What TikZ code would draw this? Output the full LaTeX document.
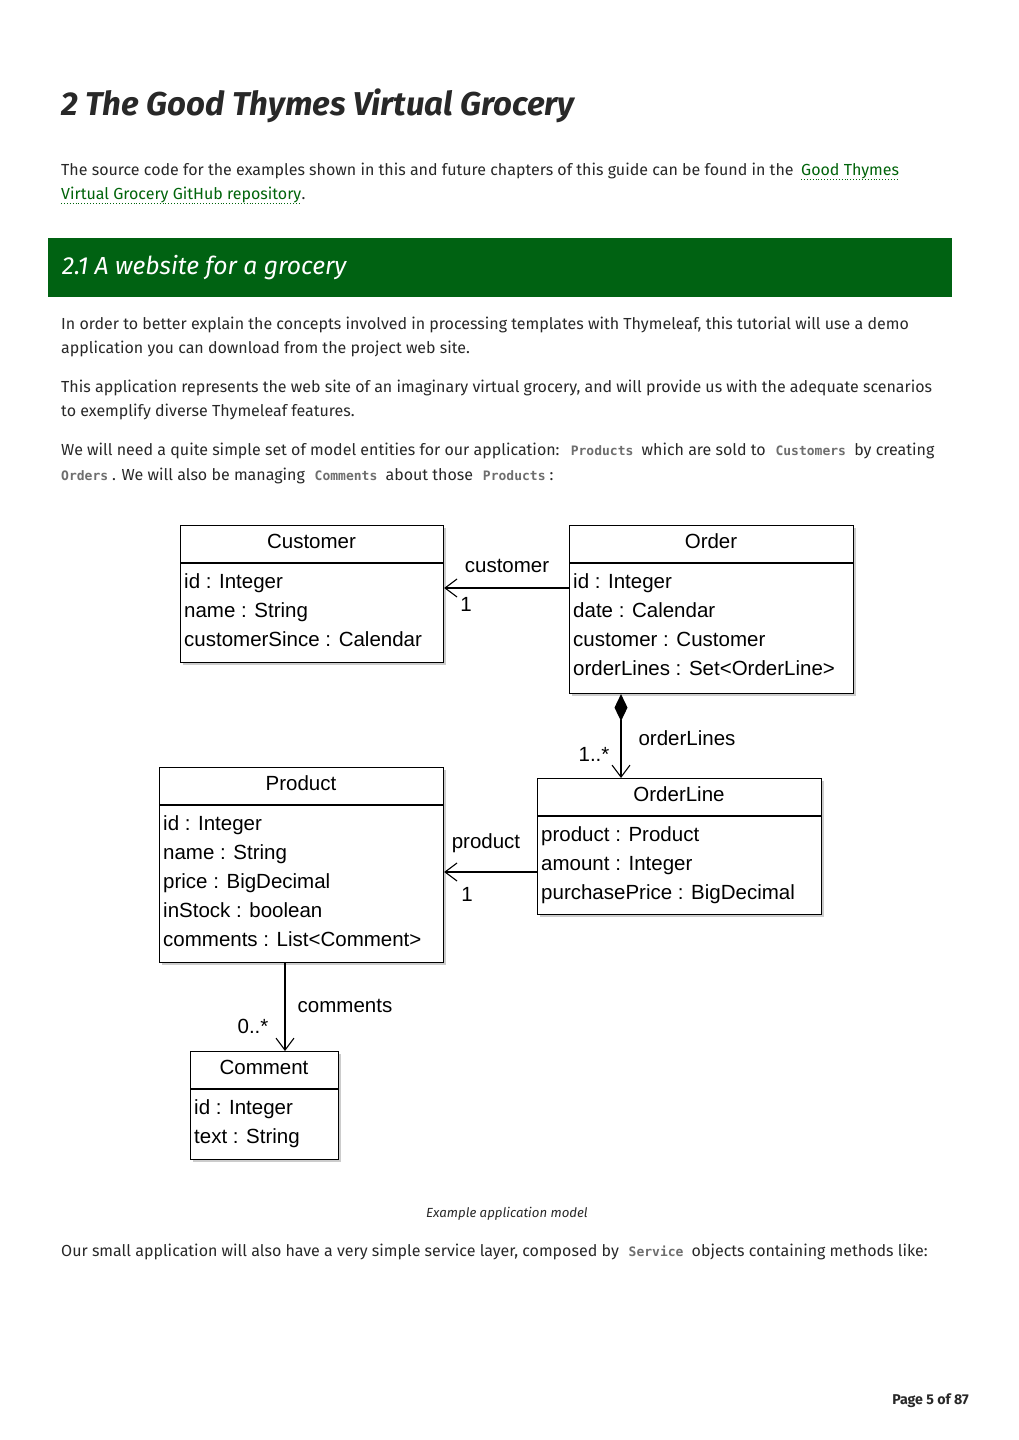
\documentclass[tikz,border=0pt]{standalone}
\usepackage{fontspec}
\setmainfont{Fira Sans}
\newfontfamily\umlfont{Liberation Sans}
\newfontfamily\codefont{DejaVu Sans Mono}
\usetikzlibrary{arrows.meta,shadows}
\definecolor{textgray}{RGB}{40,40,40}
\definecolor{bannergreen}{RGB}{0,98,18}
\definecolor{linkgreen}{RGB}{0,100,10}
\definecolor{codegray}{RGB}{110,110,110}
\newcommand\cd[1]{\hspace{0.35em}{\codefont\bfseries\fontsize{13}{15}\selectfont\color{codegray}#1}\hspace{0.25em}}
\begin{document}
\begin{tikzpicture}[x=1pt,y=-1pt,
  body/.style={anchor=base west, inner sep=0pt, font=\fontsize{16}{19}\selectfont, text=textgray},
  linktext/.style={body, text=linkgreen},
  linkline/.style={linkgreen, dotted, line width=0.9pt},
  cls/.style={draw, line width=1.1pt, fill=white, anchor=north west, inner sep=0pt,
     drop shadow={shadow xshift=2.5pt, shadow yshift=-2.5pt, fill=black, opacity=0.2}},
  sep/.style={line width=1.1pt},
  umltitle/.style={anchor=base, inner sep=0pt, font=\umlfont\fontsize{20.5}{24}\selectfont},
  umlattr/.style={anchor=base west, inner sep=0pt, font=\umlfont\fontsize{20.5}{24}\selectfont},
  umllabel/.style={inner sep=0pt, font=\umlfont\fontsize{20.5}{24}\selectfont},
  assoc/.style={line width=1.1pt, -{Straight Barb[length=12pt,width=18pt]}},
  compo/.style={line width=1.1pt, {Diamond[length=27pt,width=13pt]}-{Straight Barb[length=12pt,width=18pt]}}
]
\useasboundingbox (0,0) rectangle (1018,1440);
\fill[white] (0,0) rectangle (1018,1440);

% Title
\node[anchor=base west, inner sep=0pt, text=textgray, font=\fontsize{33}{38}\selectfont\bfseries\itshape] (title) at (61,115) {2 The Good Thymes Virtual Grocery};

% Paragraph 1
\node[body] (p1a) at (61,175) {The source code for the examples shown in this and future chapters of this guide can be found in the};
\node[linktext] (l1) at (801,175) {Good Thymes};
\node[linktext] (l2) at (61,199) {Virtual Grocery GitHub repository};
\node[body, anchor=base west] (p1b) at (l2.base east) {.};
\draw[linkline] ([yshift=-4pt]l1.base west) -- ([yshift=-4pt]l1.base east);
\draw[linkline] ([yshift=-4pt]l2.base west) -- ([yshift=-4pt]l2.base east);

% Banner
\fill[bannergreen] (48,238) rectangle (952,297);
\node[anchor=base west, inner sep=0pt, text=white, font=\fontsize{24.7}{29}\selectfont\itshape] (h21) at (62,274) {2.1 A website for a grocery};

% Paragraphs
\node[body] (p2a) at (61,329) {In order to better explain the concepts involved in processing templates with Thymeleaf, this tutorial will use a demo};
\node[body] (p2b) at (61,353) {application you can download from the project web site.};
\node[body] (p3a) at (61,392) {This application represents the web site of an imaginary virtual grocery, and will provide us with the adequate scenarios};
\node[body] (p3b) at (61,416) {to exemplify diverse Thymeleaf features.};
\node[body] (p4a) at (61,455) {We will need a quite simple set of model entities for our application: \cd{Products} which are sold to \cd{Customers} by creating};
\node[body] (p4b) at (61,480) {\hspace{-0.35em}\cd{Orders}. We will also be managing \cd{Comments} about those \cd{Products}:};

% ---------------- UML diagram ----------------
% Customer
\node[cls, minimum width=263pt, minimum height=137pt] (cust) at (180,525) {};
\draw[sep] ([yshift=-38pt]cust.north west) -- ([yshift=-38pt]cust.north east);
\node[umltitle] (custT) at (311.5,548) {Customer};
\node[umlattr] (cust1) at (184,588) {id : Integer};
\node[umlattr] (cust2) at (184,617) {name : String};
\node[umlattr] (cust3) at (184,646) {customerSince : Calendar};

% Order
\node[cls, minimum width=284pt, minimum height=168pt] (ord) at (569,525) {};
\draw[sep] ([yshift=-38pt]ord.north west) -- ([yshift=-38pt]ord.north east);
\node[umltitle] (ordT) at (711,548) {Order};
\node[umlattr] (ord1) at (573,588) {id : Integer};
\node[umlattr] (ord2) at (573,617) {date : Calendar};
\node[umlattr] (ord3) at (573,646) {customer : Customer};
\node[umlattr] (ord4) at (573,675) {orderLines : Set<OrderLine>};

% Product
\node[cls, minimum width=284pt, minimum height=195pt] (prod) at (159,767) {};
\draw[sep] ([yshift=-38pt]prod.north west) -- ([yshift=-38pt]prod.north east);
\node[umltitle] (prodT) at (301,790) {Product};
\node[umlattr] (prod1) at (163,830) {id : Integer};
\node[umlattr] (prod2) at (163,859) {name : String};
\node[umlattr] (prod3) at (163,888) {price : BigDecimal};
\node[umlattr] (prod4) at (163,917) {inStock : boolean};
\node[umlattr] (prod5) at (163,946) {comments : List<Comment>};

% OrderLine
\node[cls, minimum width=284pt, minimum height=136pt] (ordl) at (537,778) {};
\draw[sep] ([yshift=-38pt]ordl.north west) -- ([yshift=-38pt]ordl.north east);
\node[umltitle] (ordlT) at (679,801) {OrderLine};
\node[umlattr] (ordl1) at (541,841) {product : Product};
\node[umlattr] (ordl2) at (541,870) {amount : Integer};
\node[umlattr] (ordl3) at (541,899) {purchasePrice : BigDecimal};

% Comment
\node[cls, minimum width=148pt, minimum height=108pt] (comm) at (190,1051) {};
\draw[sep] ([yshift=-38pt]comm.north west) -- ([yshift=-38pt]comm.north east);
\node[umltitle] (commT) at (264,1074) {Comment};
\node[umlattr] (comm1) at (194,1114) {id : Integer};
\node[umlattr] (comm2) at (194,1143) {text : String};

% Connectors
\draw[assoc] ([yshift=-63pt]ord.north west) -- ([yshift=-63pt]cust.north east);
\node[umllabel] (lcust) at (507,566) {customer};
\node[umllabel] (lcust1) at (466,604) {1};

\draw[compo] ([xshift=52pt]ord.south west) -- ([xshift=84pt]ordl.north west);
\node[umllabel] (lol) at (687,738) {orderLines};
\node[umllabel] (lol1) at (594,754) {1..*};

\draw[assoc] ([yshift=-94pt]ordl.north west) -- ([yshift=-105pt]prod.north east);
\node[umllabel] (lprod) at (486,843) {product};
\node[umllabel] (lprod1) at (467,894) {1};

\draw[assoc] ([xshift=126pt]prod.south west) -- ([xshift=95pt]comm.north west);
\node[umllabel] (lcom) at (345,1006) {comments};
\node[umllabel] (lcom1) at (253,1026) {0..*};

% Caption and closing text
\node[anchor=base, inner sep=0pt, text=textgray, font=\fontsize{13.2}{16}\selectfont\itshape] (cap) at (507,1217) {Example application model};
\node[body] (p5) at (61,1256) {Our small application will also have a very simple service layer, composed by \cd{Service} objects containing methods like:};

\node[anchor=base east, inner sep=0pt, text=textgray, font=\fontsize{14.2}{17}\selectfont\bfseries] (page) at (969,1404) {Page 5 of 87};
\end{tikzpicture}
\end{document}
